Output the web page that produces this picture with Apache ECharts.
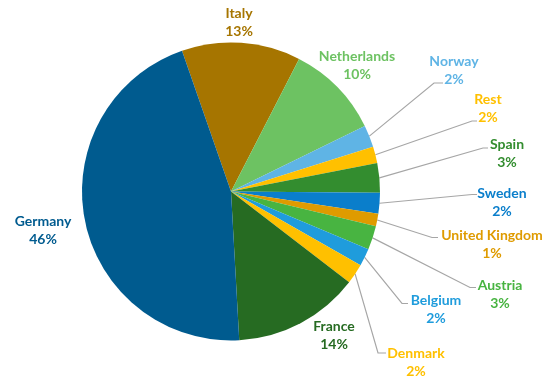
<!DOCTYPE html>
<html>
<head>
<meta charset="utf-8">
<script src="https://cdn.jsdelivr.net/npm/echarts@6/dist/echarts.min.js"></script>
<style>html,body{margin:0;padding:0;background:#fff;}#c{width:550px;height:386px;}</style>
</head>
<body>
<div id="c"></div>
<script>
const categories = ['Italy','Netherlands','Norway','Rest','Spain','Sweden','United Kingdom','Austria','Belgium','Denmark','France','Germany'];
const values = [12.9, 10.2, 2.4, 1.8, 3.2, 2.25, 1.36, 2.6, 1.9, 2.2, 13.7, 45.6];
const colors = ['#A67500','#6DC262','#5FB4E5','#FFC000','#338D2F','#0A7ECB','#DF9B00','#48B441','#1F9CDC','#FFC000','#266B22','#005B8F'];
const showLine = [false,false,true,true,true,true,true,true,true,true,false,false];
// label centres (x, y) and leader line elbow / end points
const labelPos = [[239,22],[357,65],[454,70],[488,108],[507,153],[502,202],[492,244],[500,294],[436,309],[416,362],[334,335],[43,230.5]];
const lineElbow = [null,null,[434,83],[472,121],[483,148],[472,194.5],[432,237.5],[470,287.5],[402,303.5],[378,353],null,null];
const lineEnd = [null,null,[443,83],[477,121],[488,148],[477,194.5],[438,237.5],[476,287.5],[408,303.5],[386,353],null,null];

const cx = 231, cy = 191.5, R = 149, startAngle = 109.2;
const total = values.reduce((a,b)=>a+b,0);
function edgePoint(i){
  let cum = 0; for (let k=0;k<i;k++) cum += values[k];
  const mid = (cum + values[i]/2)/total*360;
  const a = (startAngle - mid) * Math.PI/180;
  return [cx + R*Math.cos(a), cy - R*Math.sin(a)];
}

const chart = echarts.init(document.getElementById('c'), null, {renderer:'canvas'});
chart.setOption({
  animation: false,
  series: [{
    type: 'pie',
    center: [cx, cy],
    radius: [0, R],
    startAngle: startAngle,
    clockwise: true,
    avoidLabelOverlap: false,
    itemStyle: { borderWidth: 0 },
    label: {
      show: true,
      position: 'outside',
      fontFamily: 'Lato',
      fontWeight: 'bold',
      fontSize: 14,
      lineHeight: 18,
      formatter: p => p.name + '\n' + Math.round(p.percent) + '%'
    },
    labelLine: { show: true, lineStyle: { color: '#A6A6A6', width: 1.2 } },
    labelLayout: function (params) {
      const i = params.dataIndex;
      const p = labelPos[i];
      const res = { x: p[0], y: p[1], align: 'center', verticalAlign: 'middle' };
      if (showLine[i]) {
        const s = (params.labelLinePoints && params.labelLinePoints[0]) ? params.labelLinePoints[0] : edgePoint(i);
        res.labelLinePoints = [s, lineElbow[i], lineEnd[i]];
      }
      return res;
    },
    data: categories.map((n, i) => ({
      name: n,
      value: values[i],
      itemStyle: { color: colors[i] },
      label: { color: colors[i] },
      labelLine: { show: showLine[i] }
    }))
  }]
});
</script>
</body>
</html>
